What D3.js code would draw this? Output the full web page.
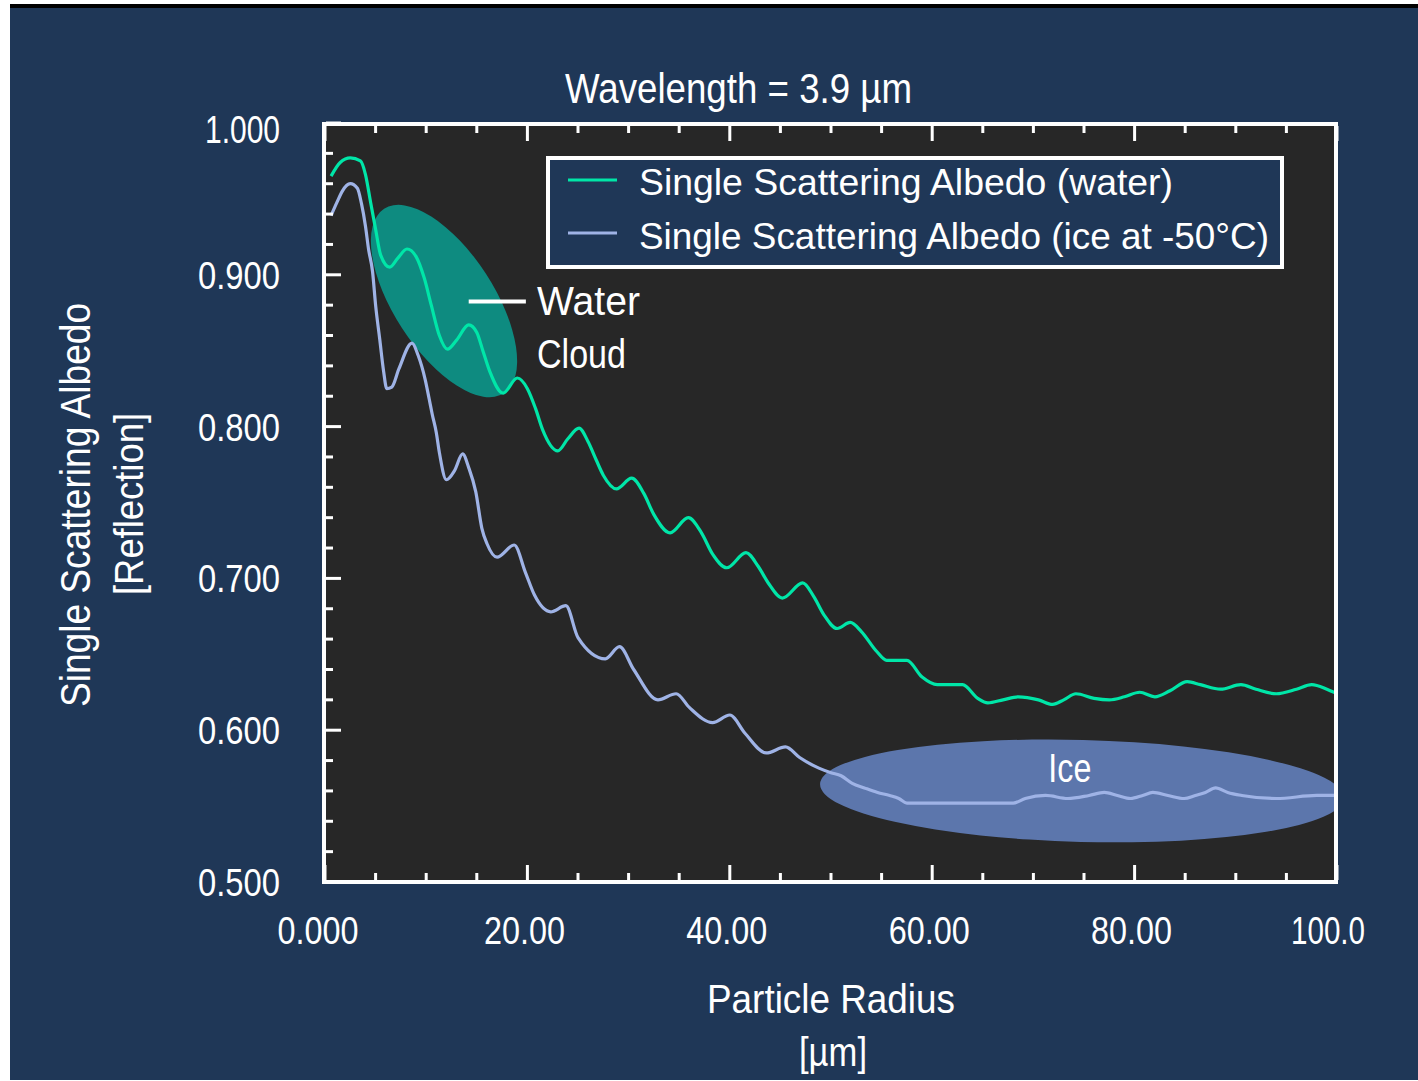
<!DOCTYPE html>
<html>
<head>
<meta charset="utf-8">
<script src="https://cdn.jsdelivr.net/npm/d3@7"></script>
<style>
  html, body { margin: 0; padding: 0; background: #ffffff; }
  svg { display: block; }
  text { font-family: "Liberation Sans Narrow", "Liberation Sans", Arial, sans-serif; fill: #ffffff; }
</style>
</head>
<body>
<svg id="chart" width="1418" height="1081"></svg>
<script>
// ---------------- data ----------------
const chartTitle = "Wavelength = 3.9 µm";
const xTitle = ["Particle Radius", "[µm]"];
const yTitle = ["Single Scattering Albedo", "[Reflection]"];
const seriesNames = ["Single Scattering Albedo (water)", "Single Scattering Albedo (ice at -50°C)"];

const xTicks = [0, 20, 40, 60, 80, 100];
const xTickLabels = ["0.000", "20.00", "40.00", "60.00", "80.00", "100.0"];
const yTicks = [0.5, 0.6, 0.7, 0.8, 0.9, 1.0];
const yTickLabels = ["0.500", "0.600", "0.700", "0.800", "0.900", "1.000"];

const waterRadius = [0.6, 1.5, 2.5, 3.5, 4.0, 4.5, 5.0, 5.5, 6.4, 7.2, 8.1, 9.0, 9.8, 10.5, 11.3, 12.1, 13.0, 14.2, 15.0, 15.6, 16.3, 17.6, 19.0, 20.0, 20.8, 21.5, 23.0, 24.0, 25.1, 26.0, 26.8, 27.5, 28.8, 30.3, 31.5, 32.5, 34.1, 35.9, 37.2, 38.3, 39.7, 41.6, 42.8, 43.8, 45.2, 47.2, 48.3, 49.3, 50.6, 51.9, 53.0, 54.5, 55.5, 57.5, 59.0, 60.5, 63.0, 64.5, 65.5, 67.0, 68.5, 70.5, 71.9, 73.0, 74.2, 76.0, 77.5, 79.0, 80.5, 82.0, 83.5, 85.2, 86.5, 88.5, 90.5, 92.0, 94.0, 96.0, 97.5, 99.0, 100];
const waterAlbedo = [0.965, 0.974, 0.977, 0.975, 0.966, 0.948, 0.930, 0.913, 0.905, 0.911, 0.917, 0.912, 0.898, 0.880, 0.860, 0.851, 0.857, 0.867, 0.862, 0.850, 0.836, 0.822, 0.832, 0.825, 0.812, 0.798, 0.784, 0.792, 0.799, 0.790, 0.778, 0.768, 0.759, 0.766, 0.756, 0.742, 0.730, 0.740, 0.730, 0.716, 0.707, 0.717, 0.708, 0.697, 0.687, 0.697, 0.688, 0.676, 0.667, 0.671, 0.665, 0.652, 0.646, 0.646, 0.635, 0.630, 0.630, 0.621, 0.618, 0.620, 0.622, 0.620, 0.617, 0.620, 0.624, 0.621, 0.620, 0.622, 0.625, 0.622, 0.626, 0.632, 0.630, 0.627, 0.630, 0.627, 0.624, 0.627, 0.630, 0.627, 0.624];

const iceRadius = [0.6, 1.2, 1.7, 2.5, 3.2, 3.6, 4.0, 4.3, 4.7, 5.0, 5.4, 5.8, 6.1, 6.6, 7.3, 8.6, 9.2, 9.9, 10.3, 10.6, 11.0, 11.3, 12.0, 12.8, 13.6, 14.2, 14.9, 15.5, 16.0, 17.0, 18.7, 19.8, 20.7, 22.3, 23.8, 25.0, 27.7, 29.1, 30.5, 32.9, 34.7, 36.0, 38.3, 40.0, 41.5, 43.6, 45.5, 46.9, 48.8, 50.0, 51.0, 52.1, 53.3, 54.6, 55.8, 56.7, 57.5, 68.0, 69.2, 71.2, 73.4, 75.5, 77.0, 78.3, 79.6, 80.8, 81.8, 83.3, 84.9, 86.0, 87.0, 88.0, 89.2, 90.6, 94.0, 98.0, 100];
const iceAlbedo = [0.939, 0.948, 0.955, 0.960, 0.957, 0.947, 0.932, 0.917, 0.902, 0.880, 0.858, 0.836, 0.825, 0.826, 0.838, 0.855, 0.847, 0.831, 0.818, 0.808, 0.796, 0.783, 0.765, 0.771, 0.782, 0.773, 0.757, 0.733, 0.723, 0.714, 0.722, 0.704, 0.689, 0.678, 0.682, 0.661, 0.647, 0.655, 0.640, 0.620, 0.624, 0.615, 0.605, 0.610, 0.598, 0.585, 0.589, 0.582, 0.575, 0.572, 0.570, 0.565, 0.562, 0.559, 0.557, 0.555, 0.552, 0.552, 0.555, 0.557, 0.555, 0.557, 0.559, 0.557, 0.555, 0.557, 0.559, 0.557, 0.555, 0.557, 0.559, 0.562, 0.559, 0.557, 0.555, 0.557, 0.557];

// annotation regions (data coordinates)
const waterCloudCenter = [11.76, 0.8827];
const iceRegionCenter = [74.8, 0.560];
const waterLabelLines = ["Water", "Cloud"];
const waterLabelPos = [20.95, 0.8735];
const waterPointer = [[14.2, 0.8824], [19.85, 0.8824]];
const iceLabel = "Ice";
const iceLabelPos = [73.6, 0.566];

// ---------------- drawing ----------------
const svg = d3.select("#chart");
const W = 1418, H = 1081;

const C = {
  panel: "#1f3757",
  plot: "#272727",
  water: "#00e6a8",
  ice: "#9fb3e6",
  waterRegion: "#0e8b80",
  iceRegion: "#5c76ac"
};

const x = d3.scaleLinear().domain([0, 100]).range([325, 1337]);
const y = d3.scaleLinear().domain([0.5, 1.0]).range([882, 123]);

// panel background
svg.append("rect").attr("x", 10).attr("y", 4).attr("width", W - 10).attr("height", 4).attr("fill", "#000");
svg.append("rect").attr("x", 10).attr("y", 8).attr("width", W - 10).attr("height", 1072).attr("fill", C.panel);

// plot area
const px0 = 324, py0 = 124, pw = 1012, ph = 758;
svg.append("rect").attr("x", px0).attr("y", py0).attr("width", pw).attr("height", ph).attr("fill", C.plot);

const defs = svg.append("defs");
defs.append("clipPath").attr("id", "plotClip")
  .append("rect").attr("x", px0 + 2).attr("y", py0 + 2).attr("width", pw - 4).attr("height", ph - 4);

const plot = svg.append("g").attr("clip-path", "url(#plotClip)");

// regions
plot.append("ellipse")
  .attr("transform", `translate(${x(waterCloudCenter[0])},${y(waterCloudCenter[1])}) rotate(57)`)
  .attr("rx", 110).attr("ry", 50).attr("fill", C.waterRegion);
plot.append("ellipse")
  .attr("transform", `translate(${x(iceRegionCenter[0])},${y(iceRegionCenter[1])}) rotate(1.5)`)
  .attr("rx", 262).attr("ry", 51).attr("fill", C.iceRegion);

// curves
const line = d3.line().x(d => x(d[0])).y(d => y(d[1])).curve(d3.curveMonotoneX);
const waterData = waterRadius.map((r, i) => [r, waterAlbedo[i]]);
const iceData = iceRadius.map((r, i) => [r, iceAlbedo[i]]);
plot.append("path").datum(iceData).attr("d", line).attr("fill", "none")
  .attr("stroke", C.ice).attr("stroke-width", 3.2).attr("stroke-linejoin", "round");
plot.append("path").datum(waterData).attr("d", line).attr("fill", "none")
  .attr("stroke", C.water).attr("stroke-width", 3.2).attr("stroke-linejoin", "round");

// ticks
const tickG = svg.append("g").attr("stroke", "#fff").attr("stroke-width", 3);
const xMinor = d3.range(0, 100.001, 5);
xMinor.forEach(v => {
  const major = Math.abs(v % 20) < 1e-6;
  const len = major ? 15 : 7;
  tickG.append("line").attr("x1", x(v)).attr("x2", x(v)).attr("y1", py0 + ph - 2).attr("y2", py0 + ph - 2 - len);
  tickG.append("line").attr("x1", x(v)).attr("x2", x(v)).attr("y1", py0 + 2).attr("y2", py0 + 2 + len);
});
const yMinor = d3.range(0, 26).map(i => 0.5 + i * 0.02);
yMinor.forEach((v, i) => {
  const major = i % 5 === 0;
  const len = major ? 15 : 7;
  tickG.append("line").attr("x1", px0 + 2).attr("x2", px0 + 2 + len).attr("y1", y(v)).attr("y2", y(v));
});

// frame
svg.append("rect").attr("x", px0).attr("y", py0).attr("width", pw).attr("height", ph)
  .attr("fill", "none").attr("stroke", "#fff").attr("stroke-width", 4);

// text helper
function addText(parent, str, opts) {
  const t = parent.append("text").text(str)
    .attr("x", opts.x || 0).attr("y", opts.y || 0)
    .attr("font-size", opts.size)
    .attr("text-anchor", opts.anchor || "start");
  if (opts.transform) t.attr("transform", opts.transform);
  if (opts.width) {
    t.attr("textLength", opts.width).attr("lengthAdjust", "spacingAndGlyphs");
  }
  return t;
}

// title
addText(svg, chartTitle, { x: 738.5, y: 103, size: 42, anchor: "middle", width: 347 });

// y tick labels
yTicks.forEach((v, i) => {
  const cy = Math.max(y(v), 129);
  addText(svg, yTickLabels[i], { x: 280, y: cy + 14, size: 38, anchor: "end", width: yTickLabels[i] === "1.000" ? 75 : 82 });
});
// x tick labels
xTicks.forEach((v, i) => {
  const dx = i === 0 ? -7 : (i === xTicks.length - 1 ? -9 : -3);
  addText(svg, xTickLabels[i], { x: x(v) + dx, y: 944, size: 38, anchor: "middle", width: i === xTicks.length - 1 ? 74 : 81 });
});

// axis titles
addText(svg, xTitle[0], { x: 831, y: 1013, size: 41, anchor: "middle", width: 248 });
addText(svg, xTitle[1], { x: 833, y: 1066, size: 41, anchor: "middle", width: 68 });
addText(svg, yTitle[0], { size: 42, anchor: "middle", width: 404, transform: "translate(90,505) rotate(-90)" });
addText(svg, yTitle[1], { size: 41, anchor: "middle", width: 182, transform: "translate(143,504) rotate(-90)" });

// legend
const lg = svg.append("g");
lg.append("rect").attr("x", 548).attr("y", 158).attr("width", 734).attr("height", 109)
  .attr("fill", C.panel).attr("stroke", "#fff").attr("stroke-width", 4);
[[C.water, 180, 195], [C.ice, 233, 249]].forEach((s, i) => {
  lg.append("line").attr("x1", 568).attr("x2", 617).attr("y1", s[1]).attr("y2", s[1])
    .attr("stroke", s[0]).attr("stroke-width", 3);
  addText(lg, seriesNames[i], { x: 639, y: s[2], size: 37, width: i === 0 ? 534 : 630 });
});

// annotations
svg.append("line")
  .attr("x1", x(waterPointer[0][0])).attr("x2", x(waterPointer[1][0]))
  .attr("y1", y(waterPointer[0][1])).attr("y2", y(waterPointer[1][1]))
  .attr("stroke", "#fff").attr("stroke-width", 4);
addText(svg, waterLabelLines[0], { x: x(waterLabelPos[0]), y: y(waterLabelPos[1]), size: 41, width: 103 });
addText(svg, waterLabelLines[1], { x: x(waterLabelPos[0]), y: y(waterLabelPos[1]) + 53, size: 41, width: 89 });
addText(svg, iceLabel, { x: x(iceLabelPos[0]), y: y(iceLabelPos[1]), size: 40, anchor: "middle", width: 43 });
</script>
</body>
</html>
